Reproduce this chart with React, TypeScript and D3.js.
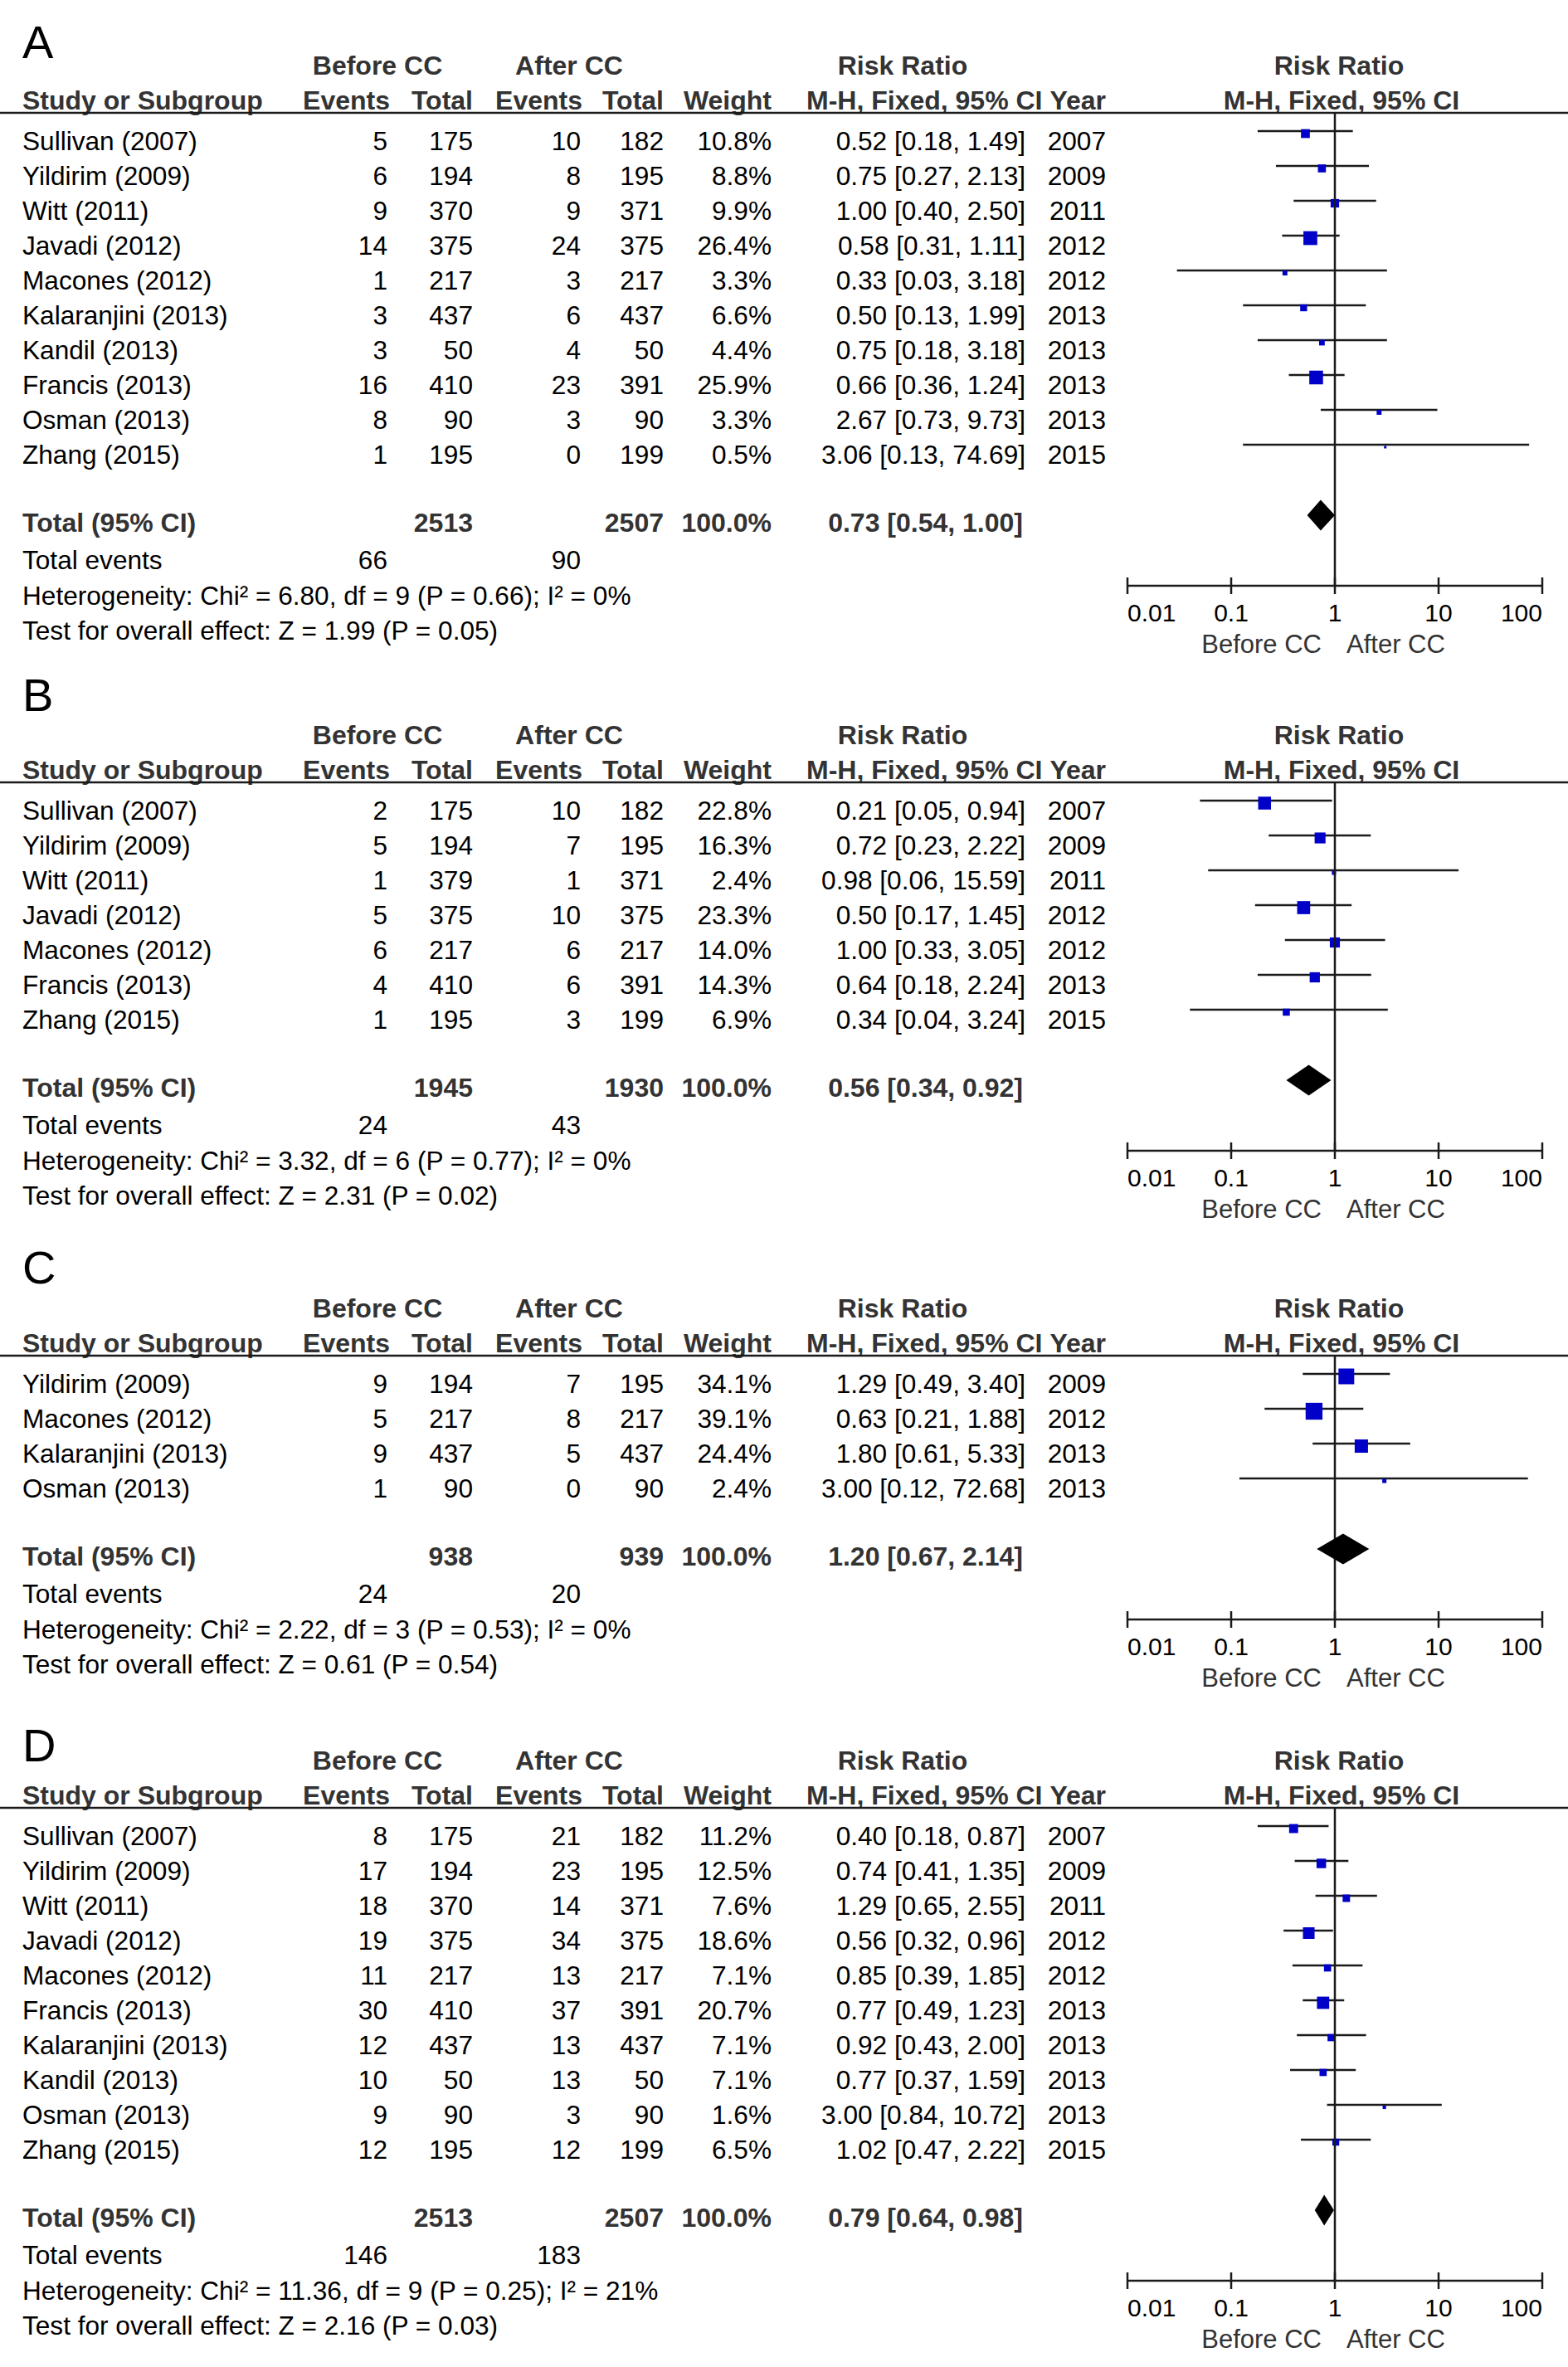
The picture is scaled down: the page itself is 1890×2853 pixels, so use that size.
import React from "react";
import * as d3 from "d3";

type Row = { study: string; e1: number; n1: number; e2: number; n2: number; w: number; rr: number; lo: number; hi: number; year: number };

const rowsA: Row[] = [
  { study: "Sullivan (2007)", e1: 5, n1: 175, e2: 10, n2: 182, w: 10.8, rr: 0.52, lo: 0.18, hi: 1.49, year: 2007 },
  { study: "Yildirim (2009)", e1: 6, n1: 194, e2: 8, n2: 195, w: 8.8, rr: 0.75, lo: 0.27, hi: 2.13, year: 2009 },
  { study: "Witt (2011)", e1: 9, n1: 370, e2: 9, n2: 371, w: 9.9, rr: 1.0, lo: 0.4, hi: 2.5, year: 2011 },
  { study: "Javadi (2012)", e1: 14, n1: 375, e2: 24, n2: 375, w: 26.4, rr: 0.58, lo: 0.31, hi: 1.11, year: 2012 },
  { study: "Macones (2012)", e1: 1, n1: 217, e2: 3, n2: 217, w: 3.3, rr: 0.33, lo: 0.03, hi: 3.18, year: 2012 },
  { study: "Kalaranjini (2013)", e1: 3, n1: 437, e2: 6, n2: 437, w: 6.6, rr: 0.5, lo: 0.13, hi: 1.99, year: 2013 },
  { study: "Kandil (2013)", e1: 3, n1: 50, e2: 4, n2: 50, w: 4.4, rr: 0.75, lo: 0.18, hi: 3.18, year: 2013 },
  { study: "Francis (2013)", e1: 16, n1: 410, e2: 23, n2: 391, w: 25.9, rr: 0.66, lo: 0.36, hi: 1.24, year: 2013 },
  { study: "Osman (2013)", e1: 8, n1: 90, e2: 3, n2: 90, w: 3.3, rr: 2.67, lo: 0.73, hi: 9.73, year: 2013 },
  { study: "Zhang (2015)", e1: 1, n1: 195, e2: 0, n2: 199, w: 0.5, rr: 3.06, lo: 0.13, hi: 74.69, year: 2015 },
];
const totalA = { n1: 2513, n2: 2507, e1: 66, e2: 90, rr: 0.73, lo: 0.54, hi: 1.0 };
const statsA = ["Heterogeneity: Chi² = 6.80, df = 9 (P = 0.66); I² = 0%", "Test for overall effect: Z = 1.99 (P = 0.05)"];

const rowsB: Row[] = [
  { study: "Sullivan (2007)", e1: 2, n1: 175, e2: 10, n2: 182, w: 22.8, rr: 0.21, lo: 0.05, hi: 0.94, year: 2007 },
  { study: "Yildirim (2009)", e1: 5, n1: 194, e2: 7, n2: 195, w: 16.3, rr: 0.72, lo: 0.23, hi: 2.22, year: 2009 },
  { study: "Witt (2011)", e1: 1, n1: 379, e2: 1, n2: 371, w: 2.4, rr: 0.98, lo: 0.06, hi: 15.59, year: 2011 },
  { study: "Javadi (2012)", e1: 5, n1: 375, e2: 10, n2: 375, w: 23.3, rr: 0.5, lo: 0.17, hi: 1.45, year: 2012 },
  { study: "Macones (2012)", e1: 6, n1: 217, e2: 6, n2: 217, w: 14.0, rr: 1.0, lo: 0.33, hi: 3.05, year: 2012 },
  { study: "Francis (2013)", e1: 4, n1: 410, e2: 6, n2: 391, w: 14.3, rr: 0.64, lo: 0.18, hi: 2.24, year: 2013 },
  { study: "Zhang (2015)", e1: 1, n1: 195, e2: 3, n2: 199, w: 6.9, rr: 0.34, lo: 0.04, hi: 3.24, year: 2015 },
];
const totalB = { n1: 1945, n2: 1930, e1: 24, e2: 43, rr: 0.56, lo: 0.34, hi: 0.92 };
const statsB = ["Heterogeneity: Chi² = 3.32, df = 6 (P = 0.77); I² = 0%", "Test for overall effect: Z = 2.31 (P = 0.02)"];

const rowsC: Row[] = [
  { study: "Yildirim (2009)", e1: 9, n1: 194, e2: 7, n2: 195, w: 34.1, rr: 1.29, lo: 0.49, hi: 3.4, year: 2009 },
  { study: "Macones (2012)", e1: 5, n1: 217, e2: 8, n2: 217, w: 39.1, rr: 0.63, lo: 0.21, hi: 1.88, year: 2012 },
  { study: "Kalaranjini (2013)", e1: 9, n1: 437, e2: 5, n2: 437, w: 24.4, rr: 1.8, lo: 0.61, hi: 5.33, year: 2013 },
  { study: "Osman (2013)", e1: 1, n1: 90, e2: 0, n2: 90, w: 2.4, rr: 3.0, lo: 0.12, hi: 72.68, year: 2013 },
];
const totalC = { n1: 938, n2: 939, e1: 24, e2: 20, rr: 1.2, lo: 0.67, hi: 2.14 };
const statsC = ["Heterogeneity: Chi² = 2.22, df = 3 (P = 0.53); I² = 0%", "Test for overall effect: Z = 0.61 (P = 0.54)"];

const rowsD: Row[] = [
  { study: "Sullivan (2007)", e1: 8, n1: 175, e2: 21, n2: 182, w: 11.2, rr: 0.4, lo: 0.18, hi: 0.87, year: 2007 },
  { study: "Yildirim (2009)", e1: 17, n1: 194, e2: 23, n2: 195, w: 12.5, rr: 0.74, lo: 0.41, hi: 1.35, year: 2009 },
  { study: "Witt (2011)", e1: 18, n1: 370, e2: 14, n2: 371, w: 7.6, rr: 1.29, lo: 0.65, hi: 2.55, year: 2011 },
  { study: "Javadi (2012)", e1: 19, n1: 375, e2: 34, n2: 375, w: 18.6, rr: 0.56, lo: 0.32, hi: 0.96, year: 2012 },
  { study: "Macones (2012)", e1: 11, n1: 217, e2: 13, n2: 217, w: 7.1, rr: 0.85, lo: 0.39, hi: 1.85, year: 2012 },
  { study: "Francis (2013)", e1: 30, n1: 410, e2: 37, n2: 391, w: 20.7, rr: 0.77, lo: 0.49, hi: 1.23, year: 2013 },
  { study: "Kalaranjini (2013)", e1: 12, n1: 437, e2: 13, n2: 437, w: 7.1, rr: 0.92, lo: 0.43, hi: 2.0, year: 2013 },
  { study: "Kandil (2013)", e1: 10, n1: 50, e2: 13, n2: 50, w: 7.1, rr: 0.77, lo: 0.37, hi: 1.59, year: 2013 },
  { study: "Osman (2013)", e1: 9, n1: 90, e2: 3, n2: 90, w: 1.6, rr: 3.0, lo: 0.84, hi: 10.72, year: 2013 },
  { study: "Zhang (2015)", e1: 12, n1: 195, e2: 12, n2: 199, w: 6.5, rr: 1.02, lo: 0.47, hi: 2.22, year: 2015 },
];
const totalD = { n1: 2513, n2: 2507, e1: 146, e2: 183, rr: 0.79, lo: 0.64, hi: 0.98 };
const statsD = ["Heterogeneity: Chi² = 11.36, df = 9 (P = 0.25); I² = 21%", "Test for overall effect: Z = 2.16 (P = 0.03)"];

const tickValues = [0.01, 0.1, 1, 10, 100];
const tickLabels = ["0.01", "0.1", "1", "10", "100"];

const FONT = "'Liberation Sans', Arial, Helvetica, sans-serif";
const FS = 31.6;
const FSB = 32;
const HEAD = "#333";
const LINE = "#1a1a1a";
const BLUE = "#0000c8";

const x = d3.scaleLog().domain([0.01, 100]).range([1359, 1859]);

const COL = { study: 27, e1: 467, n1: 570, e2: 700, n2: 800, w: 930, ci: 1236, year: 1333 };

const fmtCI = (rr: number, lo: number, hi: number) => `${rr.toFixed(2)} [${lo.toFixed(2)}, ${hi.toFixed(2)}]`;

function Panel({ letter, letterY, R, rows, total, stats }: { letter: string; letterY: number; R: number; rows: Row[]; total: any; stats: string[] }) {
  const rowY = (i: number) => R + 45 + i * 42;
  const totalY = rowY(rows.length - 1) + 82;
  const evY = totalY + 45;
  const hetY = evY + 43;
  const testY = hetY + 42;
  const axisY = totalY + 65;
  const x1 = x(1);
  const dy = totalY - 20;
  const diamond = d3.line()([
    [x(total.lo), dy],
    [x(total.rr), dy - 18.5],
    [x(total.hi), dy],
    [x(total.rr), dy + 18.5],
  ]) + "Z";
  return (
    <g fontFamily={FONT} fontSize={FS}>
      <text x={27} y={letterY} fontSize={56} fill="#000">{letter}</text>
      <g fontWeight="bold" fill={HEAD} fontSize={FSB}>
        <text x={455} y={R - 46} textAnchor="middle">Before CC</text>
        <text x={686} y={R - 46} textAnchor="middle">After CC</text>
        <text x={1088} y={R - 46} textAnchor="middle">Risk Ratio</text>
        <text x={1614} y={R - 46} textAnchor="middle">Risk Ratio</text>
        <text x={COL.study} y={R - 4}>Study or Subgroup</text>
        <text x={COL.e1 + 3} y={R - 4} textAnchor="end">Events</text>
        <text x={COL.n1} y={R - 4} textAnchor="end">Total</text>
        <text x={COL.e2 + 2} y={R - 4} textAnchor="end">Events</text>
        <text x={COL.n2} y={R - 4} textAnchor="end">Total</text>
        <text x={COL.w} y={R - 4} textAnchor="end">Weight</text>
        <text x={972} y={R - 4}>M-H, Fixed, 95% CI</text>
        <text x={COL.year} y={R - 4} textAnchor="end">Year</text>
        <text x={1617} y={R - 4} textAnchor="middle">M-H, Fixed, 95% CI</text>
      </g>
      <line x1={0} x2={1890} y1={R} y2={R} stroke={LINE} strokeWidth={2.5} />
      {rows.map((r, i) => {
        const y = rowY(i);
        const s = Math.max(3, 3.25 * Math.sqrt(r.w));
        return (
          <g key={r.study}>
            <text x={COL.study} y={y} fill="#000">{r.study}</text>
            <text x={COL.e1} y={y} textAnchor="end" fill="#000">{r.e1}</text>
            <text x={COL.n1} y={y} textAnchor="end" fill="#000">{r.n1}</text>
            <text x={COL.e2} y={y} textAnchor="end" fill="#000">{r.e2}</text>
            <text x={COL.n2} y={y} textAnchor="end" fill="#000">{r.n2}</text>
            <text x={COL.w} y={y} textAnchor="end" fill="#000">{r.w.toFixed(1)}%</text>
            <text x={COL.ci} y={y} textAnchor="end" fill="#000">{fmtCI(r.rr, r.lo, r.hi)}</text>
            <text x={COL.year} y={y} textAnchor="end" fill="#000">{r.year}</text>
            <line x1={x(r.lo)} x2={x(r.hi)} y1={y - 23} y2={y - 23} stroke={LINE} strokeWidth={2.3} />
            <rect x={x(r.rr) - s / 2} y={y - 20 - s / 2} width={s} height={s} fill={BLUE} />
          </g>
        );
      })}
      <g fontWeight="bold" fill={HEAD} fontSize={FSB}>
        <text x={COL.study} y={totalY}>Total (95% CI)</text>
        <text x={COL.n1} y={totalY} textAnchor="end">{total.n1}</text>
        <text x={COL.n2} y={totalY} textAnchor="end">{total.n2}</text>
        <text x={COL.w} y={totalY} textAnchor="end">100.0%</text>
        <text x={1233} y={totalY} textAnchor="end">{fmtCI(total.rr, total.lo, total.hi)}</text>
      </g>
      <text x={COL.study} y={evY} fill="#000">Total events</text>
      <text x={COL.e1} y={evY} textAnchor="end" fill="#000">{total.e1}</text>
      <text x={COL.e2} y={evY} textAnchor="end" fill="#000">{total.e2}</text>
      <text x={COL.study} y={hetY} fill="#000">{stats[0]}</text>
      <text x={COL.study} y={testY} fill="#000">{stats[1]}</text>
      <line x1={x1} x2={x1} y1={R} y2={axisY} stroke={LINE} strokeWidth={2.5} />
      <path d={diamond} fill="#000" />
      <line x1={x(0.01)} x2={x(100)} y1={axisY} y2={axisY} stroke={LINE} strokeWidth={2.5} />
      {tickValues.map((t, i) => (
        <g key={t}>
          <line x1={x(t)} x2={x(t)} y1={axisY - 10} y2={axisY + 10} stroke={LINE} strokeWidth={2.5} />
          <text
            x={x(t)}
            y={axisY + 43}
            fontSize={30}
            textAnchor={i === 0 ? "start" : i === tickValues.length - 1 ? "end" : "middle"}
            fill="#000"
          >
            {tickLabels[i]}
          </text>
        </g>
      ))}
      <text x={x1 - 16} y={axisY + 81} fontSize={31} textAnchor="end" fill={HEAD}>Before CC</text>
      <text x={x1 + 14} y={axisY + 81} fontSize={31} textAnchor="start" fill={HEAD}>After CC</text>
    </g>
  );
}

export default function App() {
  return (
    <svg
      width={1890}
      height={2853}
      viewBox="0 0 1890 2853"
      style={{ position: "absolute", left: 0, top: 0, display: "block", background: "#fff" }}
    >
      <rect width={1890} height={2853} fill="#fff" />
      <Panel letter="A" letterY={70} R={136} rows={rowsA} total={totalA} stats={statsA} />
      <Panel letter="B" letterY={857} R={943} rows={rowsB} total={totalB} stats={statsB} />
      <Panel letter="C" letterY={1547} R={1634} rows={rowsC} total={totalC} stats={statsC} />
      <Panel letter="D" letterY={2123} R={2179} rows={rowsD} total={totalD} stats={statsD} />
    </svg>
  );
}
